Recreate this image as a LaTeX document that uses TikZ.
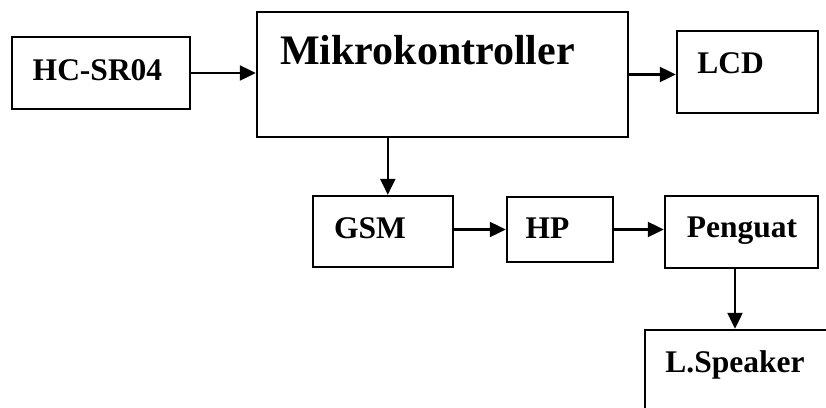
\documentclass[tikz,border=0pt]{standalone}
\usepackage{fontspec}
\setmainfont{Liberation Serif}
\usetikzlibrary{arrows.meta}
\tikzset{
  blk/.style={draw=black, line width=2.4pt, rectangle, inner sep=0pt},
  lbl/.style={anchor=base, inner sep=0pt, font=\bfseries\fontsize{31.5}{31.5}\selectfont},
  biglbl/.style={anchor=base, inner sep=0pt, font=\bfseries\fontsize{42}{42}\selectfont},
  arr/.style={line width=2.2pt, -{Triangle[length=16pt,width=15pt]}}
}
\begin{document}
\begin{tikzpicture}[x=1pt,y=-1pt]
\useasboundingbox (0,0) rectangle (826,407);
\clip (0,0) rectangle (826,407);
% boxes
\node[blk, minimum width=178pt, minimum height=72pt] (hc) at (101,73) {};
\node[blk, minimum width=371pt, minimum height=125pt] (mc) at (442.5,74.5) {};
\node[blk, minimum width=141pt, minimum height=82pt] (lcd) at (747.5,72) {};
\node[blk, minimum width=140pt, minimum height=71pt] (gsm) at (383,231.5) {};
\node[blk, minimum width=106pt, minimum height=65pt] (hp) at (560,229.5) {};
\node[blk, minimum width=153pt, minimum height=72pt] (pen) at (741.5,232) {};
\node[blk, minimum width=200pt, minimum height=120pt] (ls) at (745,390) {};
% labels
\node[lbl] (thc) at (97.5,80) {HC-SR04};
\node[biglbl] (tmc) at (427.5,64) {Mikrokontroller};
\node[lbl] (tlcd) at (730.5,73) {LCD};
\node[lbl] (tgsm) at (370,238) {GSM};
\node[lbl] (thp) at (547.5,238) {HP};
\node[lbl] (tpen) at (742,237) {Penguat};
\node[lbl] (tls) at (735,372) {L.Speaker};
% connectors
\draw[arr] (hc.east) -- (hc.east -| mc.west);
\draw[arr] (mc.east) -- (mc.east -| lcd.west);
\draw[arr] ([xshift=132pt]mc.south west) -- ([xshift=132pt]mc.south west |- gsm.north);
\draw[arr] (gsm.east |- hp.west) -- (hp.west);
\draw[arr] (hp.east) -- (hp.east -| pen.west);
\draw[arr] ([xshift=-6.5pt]pen.south) -- ([xshift=-6.5pt]pen.south |- ls.north);
\end{tikzpicture}
\end{document}
